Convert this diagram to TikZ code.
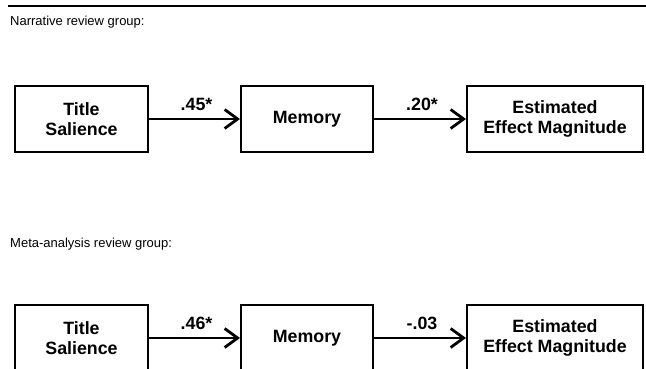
\documentclass[tikz,border=0pt]{standalone}
\usepackage{fontspec}
\setmainfont{Liberation Sans}
\usetikzlibrary{arrows.meta}

\begin{document}
\begin{tikzpicture}[x=1pt,y=1pt,>={Straight Barb[length=13pt,width=19pt,line width=2.8pt]},auto]
			\tikzstyle{every node}=[font=\fontsize{17.8}{20}\selectfont\bfseries]
			\tikzstyle{box}=[draw,line width=2pt,align=center,minimum height=66pt,inner sep=0pt]
			\tikzstyle{coef}=[inner sep=7pt,xshift=2pt]
			\tikzstyle{grouptitle}=[anchor=base west,inner sep=0pt,font=\fontsize{13}{15}\selectfont]

			\useasboundingbox (0,0) rectangle (646,369);
			\draw[line width=2.5pt] (8,363) -- (646,363);

			% narrative review group
			\node[grouptitle] (N) at (10,343) {Narrative review group:};
			\node[box,minimum width=133pt] (TS1) at (81.5,250) {Title\\Salience};
			\node[box,minimum width=132pt] (MEM1) at (307,250) {Memory};
			\node[box,minimum width=176pt] (EEM1) at (555,250) {Estimated\\Effect Magnitude};

			\path[->,line width=2pt]
				(TS1) edge node[coef] {.45*} (MEM1)
				(MEM1) edge node[coef] {.20*} (EEM1);

			% meta-analysis review group
			\node[grouptitle] (M) at (10,121) {Meta-analysis review group:};
			\node[box,minimum width=133pt] (TS2) at (81.5,31) {Title\\Salience};
			\node[box,minimum width=132pt] (MEM2) at (307,31) {Memory};
			\node[box,minimum width=176pt] (EEM2) at (555,31) {Estimated\\Effect Magnitude};

			\path[->,line width=2pt]
				(TS2) edge node[coef] {.46*} (MEM2)
				(MEM2) edge node[coef] {-.03} (EEM2);
		\end{tikzpicture}
\end{document}
